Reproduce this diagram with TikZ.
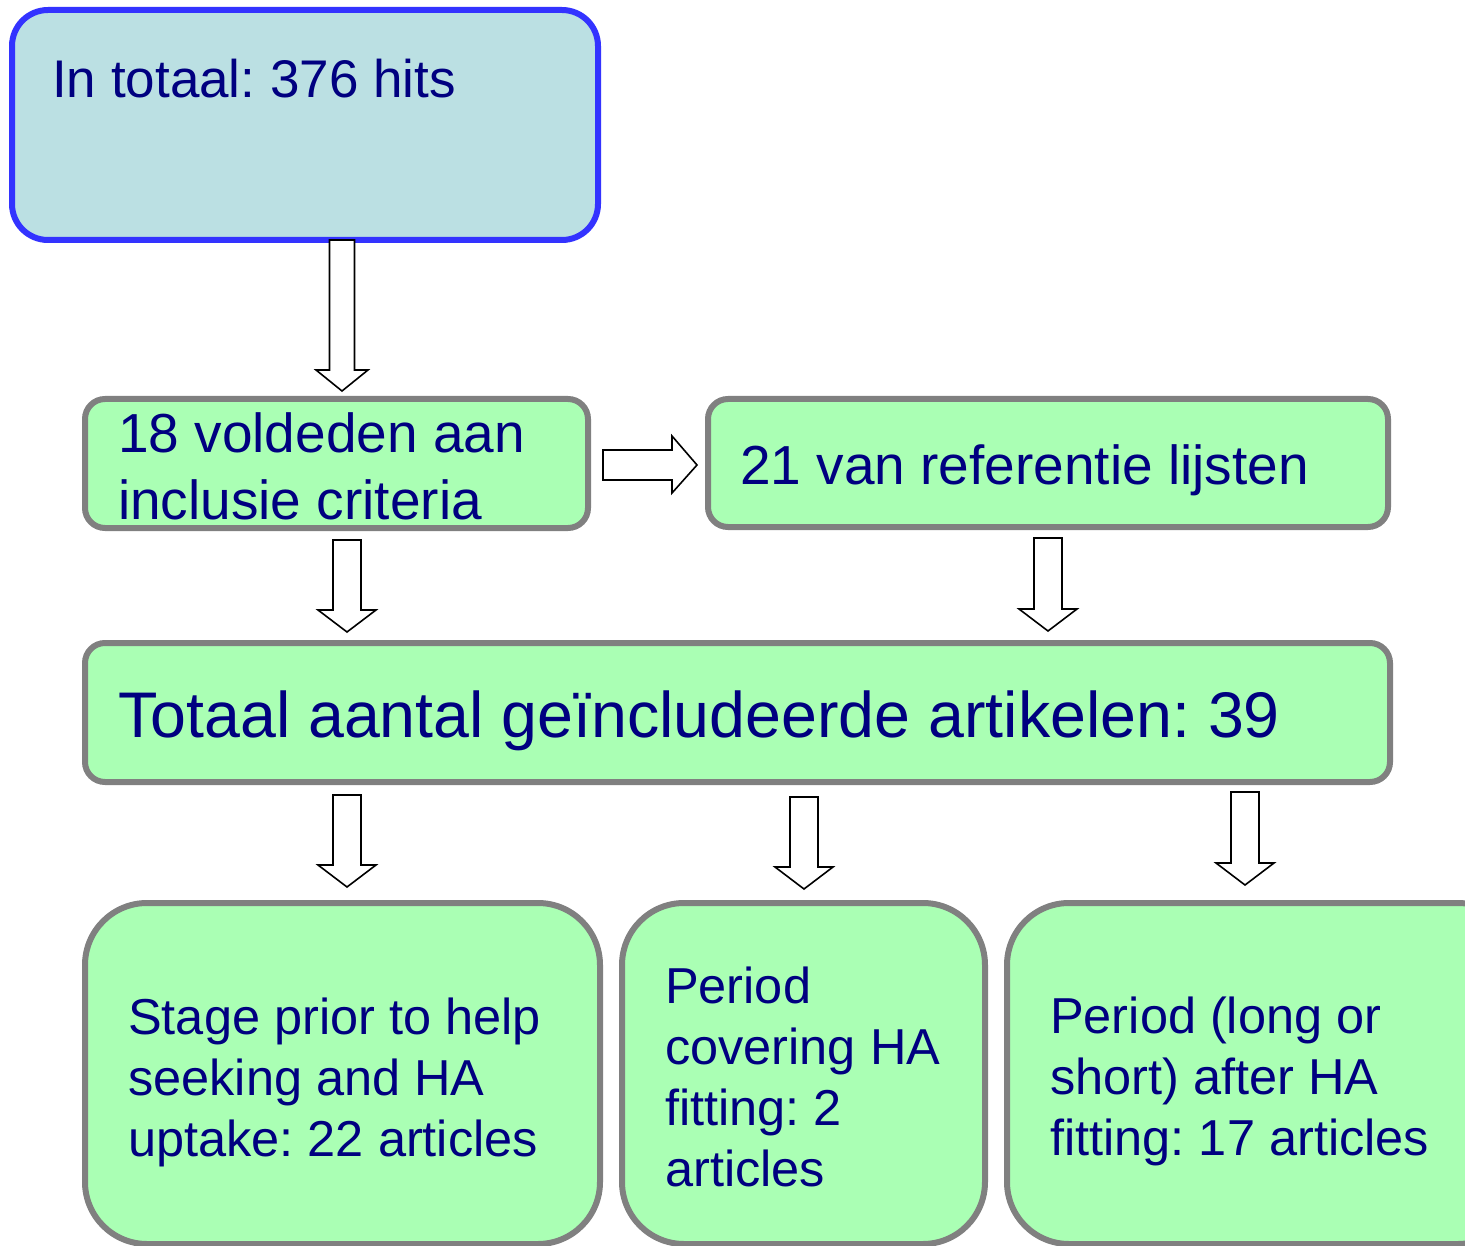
\documentclass[tikz,border=0pt]{standalone}
\usepackage{fontspec}
\setmainfont{Liberation Sans}
\frenchspacing
\definecolor{navytext}{RGB}{0,0,128}
\definecolor{boxgreen}{RGB}{170,255,180}
\definecolor{boxcyan}{RGB}{187,224,227}
\definecolor{edgeblue}{RGB}{51,51,255}
\definecolor{edgegray}{RGB}{128,128,128}
\newcommand\blockdown[4]{% name, cx, ytop, ytip
  \draw[barrow] (#2-14,#3) -- (#2+14,#3) -- (#2+14,#4-22) -- (#2+29,#4-22) -- (#2,#4) -- (#2-29,#4-22) -- (#2-14,#4-22) -- cycle;
  \coordinate (#1) at (#2,#4);}
\begin{document}
\begin{tikzpicture}[x=1pt,y=-1pt,
  greenbox/.style={draw=edgegray, fill=boxgreen, line width=6pt},
  barrow/.style={draw=black, fill=white, line width=1.6pt, line join=miter},
  txt/.style={anchor=base west, inner sep=0pt, text=navytext, align=left}]
\useasboundingbox (0,0) rectangle (1465,1246);
\clip (0,0) rectangle (1465,1246);
% boxes
\draw[draw=edgeblue, fill=boxcyan, line width=6pt, rounded corners=36pt] (12,10) rectangle (598,240);
\draw[greenbox, rounded corners=20pt] (85,399) rectangle (588,528);
\draw[greenbox, rounded corners=20pt] (708,399) rectangle (1388,527);
\draw[greenbox, rounded corners=20pt] (85,643) rectangle (1390,782);
\draw[greenbox, rounded corners=62pt] (85,903) rectangle (600,1244);
\draw[greenbox, rounded corners=62pt] (622,903) rectangle (985,1244);
\draw[greenbox, rounded corners=62pt] (1007,903) rectangle (1520,1244);
% texts (base = baseline of last line)
\node[txt, font=\fontsize{53}{64}\selectfont] (t0) at (52,98) {In totaal: 376 hits};
\node[txt, font=\fontsize{55}{67}\selectfont] (t1) at (118,519) {18 voldeden aan\\inclusie criteria};
\node[txt, font=\fontsize{55}{67}\selectfont] (t2) at (740,485) {21 van referentie lijsten};
\node[txt, font=\fontsize{64.5}{78}\selectfont] (t3) at (118,737) {Totaal aantal ge\"includeerde artikelen: 39};
\node[txt, font=\fontsize{50.5}{61}\selectfont] (t4) at (128,1156) {Stage prior to help\\seeking and HA\\uptake: 22 articles};
\node[txt, font=\fontsize{50.5}{61}\selectfont] (t5) at (665,1186) {Period\\covering HA\\fitting: 2\\articles};
\node[txt, font=\fontsize{50.5}{61}\selectfont] (t6) at (1050,1155) {Period (long or\\short) after HA\\fitting: 17 articles};
% block arrows
\draw[barrow] (329.5,240) -- (354.5,240) -- (354.5,370) -- (368,370) -- (342,391) -- (316,370) -- (329.5,370) -- cycle;
\draw[barrow] (603,450) -- (672,450) -- (672,436) -- (697,465) -- (672,493) -- (672,480) -- (603,480) -- cycle;
\blockdown{a1}{347}{540}{632}
\blockdown{a2}{1048}{538}{631}
\blockdown{a3}{347}{795}{887}
\blockdown{a4}{804}{797}{889}
\blockdown{a5}{1245}{792}{885}
\end{tikzpicture}
\end{document}
